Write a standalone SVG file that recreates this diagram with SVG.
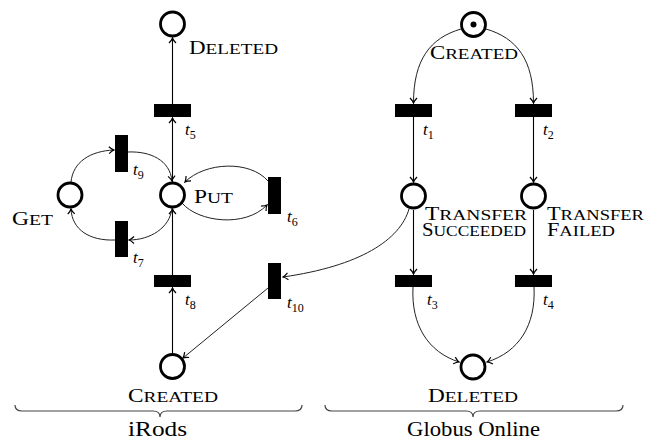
<svg xmlns="http://www.w3.org/2000/svg" width="647" height="441" viewBox="0 0 647 441">
<style>
.place{fill:#fff;stroke:#000;stroke-width:2.8}
.trans{fill:#000}
.arc{fill:none;stroke:#000;stroke-width:1.1}
.curve{fill:none;stroke:#222;stroke-width:1}
.brace{fill:none;stroke:#444;stroke-width:1.2}
text{font-family:"Liberation Serif","DejaVu Serif",serif;fill:#000}
.lbl{font-size:18px}
.sc{font-size:21px;font-variant:small-caps}
.tl{font-size:17px;font-style:italic}
.sub{font-size:12px;font-style:normal}
.grp{font-size:20px}
</style>
<defs>
<marker id="ah" viewBox="-6 -5 7 10" refX="0" refY="0" markerWidth="7" markerHeight="10" markerUnits="userSpaceOnUse" orient="auto">
<path d="M-5,-3.5 Q-2,-0.6 0,0 Q-2,0.6 -5,3.5" fill="none" stroke="#000" stroke-width="1.2"/>
</marker>
</defs>
<rect width="647" height="441" fill="#fff"/>

<g id="connectors">
<path class="arc" d="M172.5,104 L172.5,38" marker-end="url(#ah)"/>
<path class="arc" d="M172.5,182 L172.5,118" marker-end="url(#ah)"/>
<path class="arc" d="M172.5,275 L172.5,209" marker-end="url(#ah)"/>
<path class="arc" d="M172.5,353 L172.5,288" marker-end="url(#ah)"/>
<path class="curve" d="M268,288 L183,358" marker-end="url(#ah)"/>
<path class="curve" d="M71,182 C73,162 90,151 114,150" marker-end="url(#ah)"/>
<path class="curve" d="M128,152 C150,151 170,160 172,181" marker-end="url(#ah)"/>
<path class="curve" d="M172,208 C170,228 150,240 129,240" marker-end="url(#ah)"/>
<path class="curve" d="M115,240 C90,241 72,230 71,209" marker-end="url(#ah)"/>
<path class="curve" d="M182,203 C198,222 245,228 267,205" marker-end="url(#ah)"/>
<path class="curve" d="M268,181 C250,160 205,162 185,182" marker-end="url(#ah)"/>
<path class="curve" d="M409,209 C400,240 360,266 283,277" marker-end="url(#ah)"/>
<path class="curve" d="M461,29 C430,38 413.5,60 413.5,103" marker-end="url(#ah)"/>
<path class="curve" d="M486,29 C517,38 533.5,60 533.5,103" marker-end="url(#ah)"/>
<path class="arc" d="M413.5,117 L413.5,182" marker-end="url(#ah)"/>
<path class="arc" d="M533.5,117 L533.5,182" marker-end="url(#ah)"/>
<path class="arc" d="M413.5,210 L413.5,274" marker-end="url(#ah)"/>
<path class="arc" d="M533.5,210 L533.5,274" marker-end="url(#ah)"/>
<path class="curve" d="M413,287 C411,325 428,352 459,362" marker-end="url(#ah)"/>
<path class="curve" d="M534,287 C536,325 519,352 487,362" marker-end="url(#ah)"/>
</g>

<g id="irods-deleted">
<circle class="place" cx="172.5" cy="24" r="12"/>
<text class="lbl" x="189" y="54" textLength="89" lengthAdjust="spacingAndGlyphs">D<tspan class="sc">eleted</tspan></text>
</g>
<g id="t5">
<rect class="trans" x="154" y="104" width="37" height="13"/>
<text class="tl" x="185" y="135">t<tspan class="sub" dy="4">5</tspan></text>
</g>
<g id="put">
<circle class="place" cx="172.5" cy="195" r="12"/>
<text class="lbl" x="194" y="203" textLength="39" lengthAdjust="spacingAndGlyphs">P<tspan class="sc">ut</tspan></text>
</g>
<g id="get">
<circle class="place" cx="70" cy="195" r="12"/>
<text class="lbl" x="12" y="225" textLength="41" lengthAdjust="spacingAndGlyphs">G<tspan class="sc">et</tspan></text>
</g>
<g id="t9">
<rect class="trans" x="115" y="135" width="13" height="37"/>
<text class="tl" x="133" y="175">t<tspan class="sub" dy="4">9</tspan></text>
</g>
<g id="t7">
<rect class="trans" x="115" y="221" width="13" height="36"/>
<text class="tl" x="133" y="263">t<tspan class="sub" dy="4">7</tspan></text>
</g>
<g id="t6">
<rect class="trans" x="268" y="177" width="13" height="37"/>
<text class="tl" x="287" y="222">t<tspan class="sub" dy="4">6</tspan></text>
</g>
<g id="t8">
<rect class="trans" x="154" y="275" width="37" height="12"/>
<text class="tl" x="185" y="305">t<tspan class="sub" dy="4">8</tspan></text>
</g>
<g id="t10">
<rect class="trans" x="268" y="263" width="13" height="36"/>
<text class="tl" x="287" y="308">t<tspan class="sub" dy="4">10</tspan></text>
</g>
<g id="irods-created">
<circle class="place" cx="172.5" cy="366.5" r="12"/>
<text class="lbl" x="128" y="402" textLength="90" lengthAdjust="spacingAndGlyphs">C<tspan class="sc">reated</tspan></text>
</g>

<g id="globus-created">
<circle class="place" cx="473.5" cy="24.5" r="12"/>
<circle cx="473.5" cy="24.5" r="3" fill="#000"/>
<text class="lbl" x="430" y="59" textLength="88" lengthAdjust="spacingAndGlyphs">C<tspan class="sc">reated</tspan></text>
</g>
<g id="t1">
<rect class="trans" x="395" y="104" width="37" height="13"/>
<text class="tl" x="423" y="135">t<tspan class="sub" dy="4">1</tspan></text>
</g>
<g id="t2">
<rect class="trans" x="515" y="104" width="37" height="13"/>
<text class="tl" x="543" y="135">t<tspan class="sub" dy="4">2</tspan></text>
</g>
<g id="transfer-succeeded">
<circle class="place" cx="413.5" cy="196" r="12"/>
<text class="lbl" x="425" y="220" textLength="102" lengthAdjust="spacingAndGlyphs">T<tspan class="sc">ransfer</tspan></text>
<text class="lbl" x="422" y="236" textLength="104" lengthAdjust="spacingAndGlyphs">S<tspan class="sc">ucceeded</tspan></text>
</g>
<g id="transfer-failed">
<circle class="place" cx="533.5" cy="196" r="12"/>
<text class="lbl" x="547" y="220" textLength="97" lengthAdjust="spacingAndGlyphs">T<tspan class="sc">ransfer</tspan></text>
<text class="lbl" x="547" y="236" textLength="68" lengthAdjust="spacingAndGlyphs">F<tspan class="sc">ailed</tspan></text>
</g>
<g id="t3">
<rect class="trans" x="395" y="275" width="37" height="12"/>
<text class="tl" x="427" y="305">t<tspan class="sub" dy="4">3</tspan></text>
</g>
<g id="t4">
<rect class="trans" x="515" y="275" width="37" height="12"/>
<text class="tl" x="543" y="305">t<tspan class="sub" dy="4">4</tspan></text>
</g>
<g id="globus-deleted">
<circle class="place" cx="473" cy="367" r="12"/>
<text class="lbl" x="428" y="402" textLength="90" lengthAdjust="spacingAndGlyphs">D<tspan class="sc">eleted</tspan></text>
</g>

<g id="irods-group">
<path class="brace" d="M15,405 Q15,411 22,411 L153,411 Q160,411 160,417 Q160,411 167,411 L295,411 Q302,411 302,405"/>
<text class="grp" x="128" y="436" textLength="59" lengthAdjust="spacingAndGlyphs">iRods</text>
</g>
<g id="globus-group">
<path class="brace" d="M325,405 Q325,411 332,411 L466,411 Q473,411 473,417 Q473,411 480,411 L616,411 Q623,411 623,405"/>
<text class="grp" x="407" y="436" textLength="133" lengthAdjust="spacingAndGlyphs">Globus Online</text>
</g>
</svg>
